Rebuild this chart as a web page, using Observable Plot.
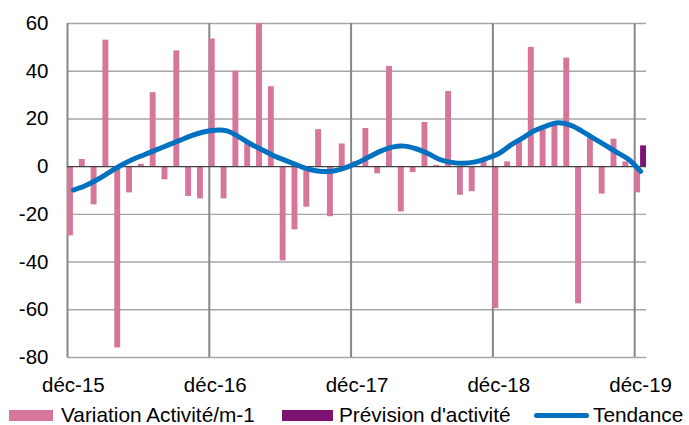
<!DOCTYPE html>
<html><head><meta charset="utf-8">
<script src="https://cdn.jsdelivr.net/npm/d3@7"></script>
<script src="https://cdn.jsdelivr.net/npm/@observablehq/plot@0.6"></script>
<style>
body{margin:0;background:#fff;font-family:"Liberation Sans",Arial,sans-serif;}
#wrap{position:relative;width:689px;height:425px;overflow:hidden;background:#fff;}
.lg{position:absolute;font-size:20.8px;color:#000;white-space:nowrap;line-height:20px;}
.sw{position:absolute;}
</style></head><body><div id="wrap"></div>
<script>
const monthNames = ["janv","févr","mars","avr","mai","juin","juil","août","sept","oct","nov","déc"];
const months = ["déc-15"];
for (const yy of ["16","17","18","19"]) for (const m of monthNames) months.push(m + "-" + yy);

const variation = [-29, 3, -16, 53, -76, -11, 1, 31, -5.5, 48.5, -12.5, -13.5,
  53.5, -13.5, 40, 10.5, 60, 33.5, -39.5, -26.5, -17, 15.5, -21, 9.5,
  2, 16, -3, 42, -19, -2.5, 18.5, 0.5, 31.5, -12, -10.5, 2,
  -59.5, 2, 11, 50, 15.5, 17.5, 45.5, -57.5, 12, -11.5, 11.5, 2,
  -11];
const prevision = [null,null,null,null,null,null,null,null,null,null,null,null,
  null,null,null,null,null,null,null,null,null,null,null,null,
  null,null,null,null,null,null,null,null,null,null,null,null,
  null,null,null,null,null,null,null,null,null,null,null,null,
  8.7];
const tendance = [-9.8, -8, -5.5, -2.5, 0.5, 3, 5, 7, 9, 11, 13, 14.5,
  15.3, 15, 12.5, 9.5, 7, 4.5, 2.5, 0.5, -1.2, -2, -1.8, -0.5,
  1.5, 4, 6.5, 8.2, 8.6, 7.5, 5.5, 3, 1.8, 1.4, 2, 3.5,
  5.5, 9, 12, 15, 17, 18.4, 17.5, 15, 12, 9, 6, 3,
  -2];
const yTicks = [-80, -60, -40, -20, 0, 20, 40, 60];
const xTickLabels = ["déc-15", "déc-16", "déc-17", "déc-18", "déc-19"];

const rows = months.map((m, i) => ({i, m, v: variation[i], p: prevision[i], t: tendance[i]}));
const decIdx = xTickLabels.map(l => months.indexOf(l));

const chart = Plot.plot({
  width: 689, height: 398,
  marginLeft: 67, marginRight: 43, marginTop: 23, marginBottom: 41,
  style: {fontFamily: "'Liberation Sans', Arial, sans-serif", fontSize: "20.5px", color: "#000", background: "#fff", overflow: "visible"},
  x: {domain: [0, months.length], axis: null, label: null},
  y: {domain: [-80, 60], axis: null, label: null},
  marks: [
    Plot.ruleY(yTicks.filter(d => d !== 0), {y: d => d, stroke: "#a6a6a6", strokeWidth: 1.4}),
    Plot.ruleX(decIdx, {x: d => d, stroke: "#878787", strokeWidth: 2}),
    Plot.rectY(rows.filter(d => d.v != null), {x1: "i", x2: d => d.i + 0.5, y1: 0, y2: "v", fill: "#d5769a"}),
    Plot.rectY(rows.filter(d => d.p != null), {x1: d => d.i + 0.5, x2: d => d.i + 1, y1: 0, y2: "p", fill: "#7d1272"}),
    Plot.ruleY([0], {stroke: "#404040", strokeWidth: 1.2}),
    Plot.line(rows, {x: d => d.i + 0.5, y: "t", stroke: "#0070c0", strokeWidth: 5, curve: "catmull-rom", strokeLinecap: "round"}),
    Plot.axisY({ticks: yTicks, tickSize: 0, tickPadding: 19, fontSize: 20.5, label: null, tickFormat: d => String(d)}),
    Plot.axisX({ticks: decIdx.map(i => i + 0.5), tickSize: 0, tickPadding: 20, fontSize: 20.5, label: null, tickFormat: d => months[Math.floor(d)]})
  ]
});
const wrap = document.getElementById("wrap");
wrap.appendChild(chart);

const legend = [
  {type: "rect", color: "#d5769a", sx: 9, sw: 44, label: "Variation Activité/m-1", tx: 61},
  {type: "rect", color: "#7d1272", sx: 282, sw: 51, label: "Prévision d'activité", tx: 339},
  {type: "line", color: "#0070c0", sx: 534, sw: 55, label: "Tendance", tx: 593}
];
for (const it of legend) {
  const s = document.createElement("div");
  s.className = "sw";
  s.style.left = it.sx + "px";
  s.style.width = it.sw + "px";
  s.style.background = it.color;
  if (it.type === "rect") { s.style.top = "410px"; s.style.height = "11px"; }
  else { s.style.top = "413px"; s.style.height = "5px"; s.style.borderRadius = "3px"; }
  wrap.appendChild(s);
  const t = document.createElement("div");
  t.className = "lg";
  t.style.left = it.tx + "px";
  t.style.top = "405px";
  t.textContent = it.label;
  wrap.appendChild(t);
}
</script></body></html>
